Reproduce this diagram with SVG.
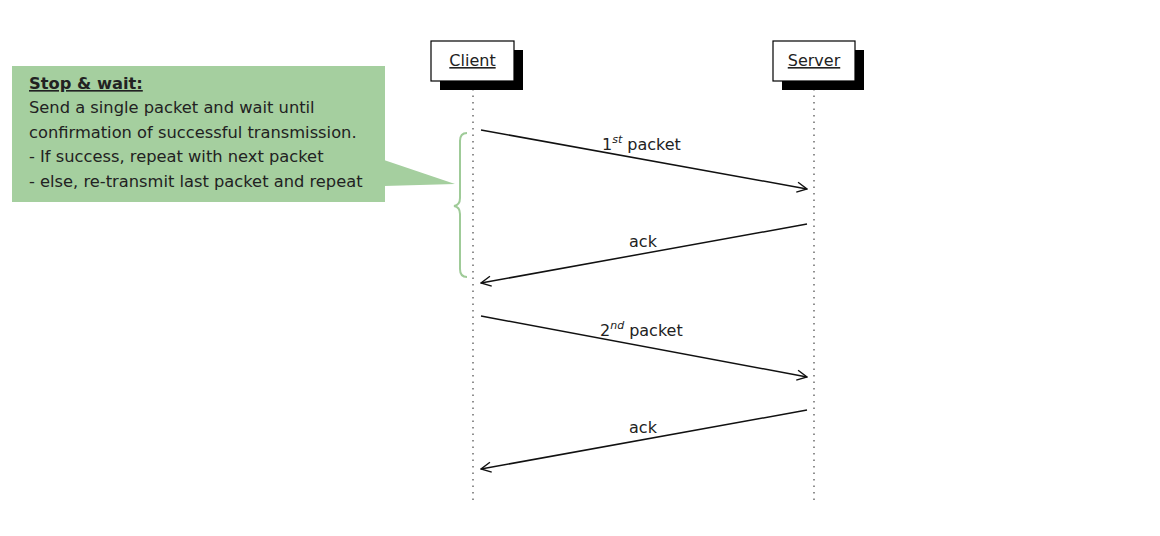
<svg xmlns="http://www.w3.org/2000/svg" width="1160" height="536" viewBox="0 0 1160 536">
<style>
text{font-family:"DejaVu Sans","Liberation Sans",sans-serif;fill:#222}
.lbl{font-size:16px}
.life{stroke:#555;stroke-width:1.3;stroke-dasharray:1.5 5}
.msg{stroke:#111;stroke-width:1.5;fill:none;marker-end:url(#arr)}
.note{font-size:16.3px}
</style>
<defs>
<marker id="arr" viewBox="0 0 12 12" refX="11" refY="6" markerWidth="12" markerHeight="12" markerUnits="userSpaceOnUse" orient="auto">
<path d="M1,1 L11,6 L1,11" fill="none" stroke="#111" stroke-width="1.4"/>
</marker>
</defs>
<rect width="1160" height="536" fill="#fff"/>
<g id="lifelines">
<line class="life" x1="473" y1="89" x2="473" y2="502"/>
<line class="life" x1="814" y1="89" x2="814" y2="502"/>
</g>
<g id="client">
<rect x="440" y="50" width="83" height="40" fill="#000"/>
<rect x="431" y="41" width="83" height="40" fill="#fff" stroke="#000" stroke-width="1.2"/>
<text class="lbl" x="472.5" y="66" text-anchor="middle" text-decoration="underline">Client</text>
</g>
<g id="server">
<rect x="782" y="50" width="82" height="40" fill="#000"/>
<rect x="773" y="41" width="82" height="40" fill="#fff" stroke="#000" stroke-width="1.2"/>
<text class="lbl" x="814" y="66" text-anchor="middle" text-decoration="underline">Server</text>
</g>
<g id="note">
<polygon points="384,160 455,184 384,186" fill="#a5cf9f"/>
<rect x="12" y="66" width="373" height="136" fill="#a5cf9f"/>
<text class="note" x="29" y="89" font-weight="bold" text-decoration="underline">Stop &amp; wait:</text>
<text class="note" x="29" y="113">Send a single packet and wait until</text>
<text class="note" x="29" y="138">confirmation of successful transmission.</text>
<text class="note" x="29" y="162">- If success, repeat with next packet</text>
<text class="note" x="29" y="187">- else, re-transmit last packet and repeat</text>
</g>
<g id="brace">
<path d="M467,133 Q460,133 460,141 L460,198 Q460,205 454,206 Q460,207 460,214 L460,269 Q460,277 467,277" fill="none" stroke="#9fcb98" stroke-width="2"/>
</g>
<g id="connectors">
<line class="msg" x1="481" y1="130" x2="807" y2="189"/>
<line class="msg" x1="807" y1="224" x2="481" y2="283"/>
<line class="msg" x1="481" y1="316" x2="807" y2="377"/>
<line class="msg" x1="807" y1="410" x2="481" y2="469"/>
</g>
<g id="labels">
<text class="lbl" x="602" y="150">1<tspan font-size="11" font-style="italic" dy="-7">st</tspan><tspan dy="7" dx="5">packet</tspan></text>
<text class="lbl" x="643" y="247" text-anchor="middle">ack</text>
<text class="lbl" x="600" y="336">2<tspan font-size="11" font-style="italic" dy="-7">nd</tspan><tspan dy="7" dx="5">packet</tspan></text>
<text class="lbl" x="643" y="433" text-anchor="middle">ack</text>
</g>
</svg>
